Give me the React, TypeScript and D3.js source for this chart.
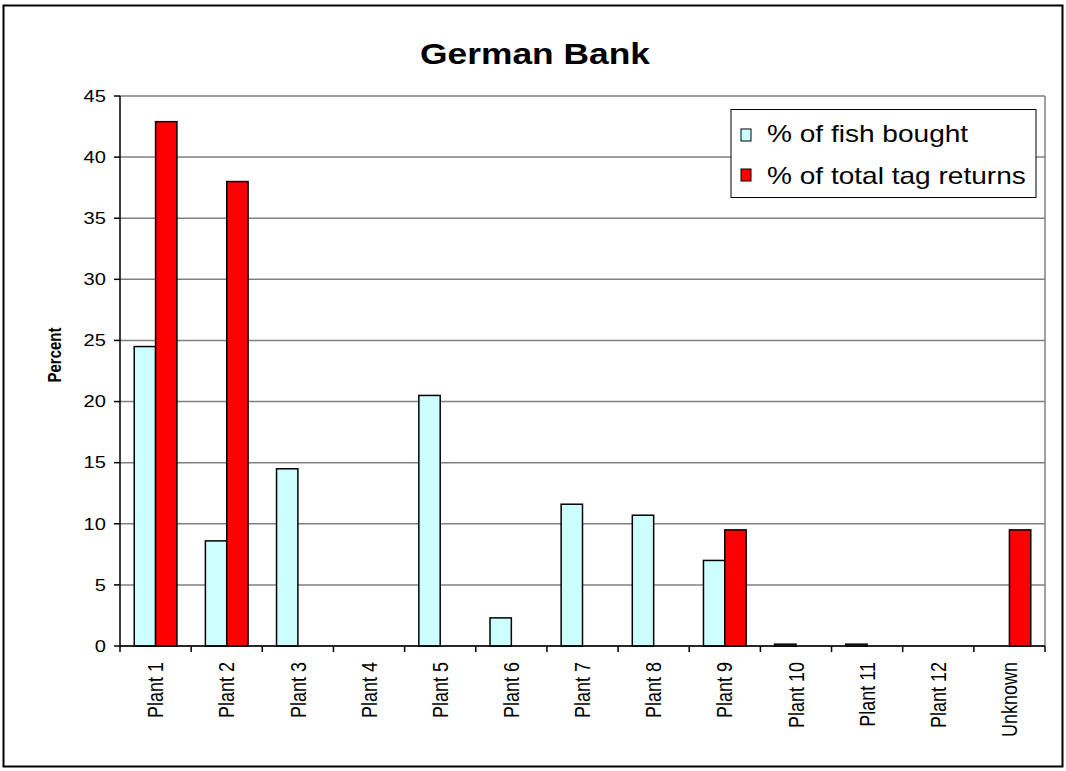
import React from "react";
import * as d3 from "d3";

const categories = ["Plant 1", "Plant 2", "Plant 3", "Plant 4", "Plant 5", "Plant 6", "Plant 7", "Plant 8", "Plant 9", "Plant 10", "Plant 11", "Plant 12", "Unknown"];
const fishBought = [24.5, 8.6, 14.5, 0, 20.5, 2.3, 11.6, 10.7, 7.0, 0.15, 0.15, 0, 0];
const tagReturns = [42.9, 38.0, 0, 0, 0, 0, 0, 0, 9.5, 0, 0, 0, 9.5];
const seriesNames = ["% of fish bought", "% of total tag returns"];
const seriesColors = ["#CCFFFF", "#FF0000"];
const yTicks = [0, 5, 10, 15, 20, 25, 30, 35, 40, 45];

const W = 1066;
const H = 771;
const SX = 1.22;
const FONT = "'Liberation Sans', Arial, sans-serif";

export default function App() {
  const left = 120, right = 1045, top = 96, bottom = 646;
  const x = d3.scaleBand<string>().domain(categories).range([left, right]).paddingInner(0.4).paddingOuter(0.2);
  const x1 = d3.scaleBand<string>().domain(seriesNames).range([0, x.bandwidth()]);
  const y = d3.scaleLinear().domain([0, 45]).range([bottom, top]);
  const step = x.step();
  const series = [fishBought, tagReturns];

  return (
    <svg width={W} height={H} style={{ position: "absolute", left: 0, top: 0 }} fontFamily={FONT}>
      <rect x={0} y={0} width={W} height={H} fill="#fff" />
      <rect x={3.5} y={5.5} width={1059} height={761} fill="#fff" stroke="#000" strokeWidth={2} />
      {/* title */}
      <text transform={`translate(535,64) scale(${SX},1)`} textAnchor="middle" fontSize={29} fontWeight="bold" fill="#000">German Bank</text>
      {/* gridlines */}
      {yTicks.map((t) => (
        <line key={"g" + t} x1={left} x2={right} y1={y(t)} y2={y(t)} stroke="#808080" strokeWidth={1.5} />
      ))}
      <line x1={right} x2={right} y1={top} y2={bottom} stroke="#808080" strokeWidth={1.5} />
      {/* bars */}
      {categories.map((c, i) => (
        <g key={c}>
          {series.map((s, j) => s[i] > 0 ? (
            <rect key={j} x={(x(c) as number) + (x1(seriesNames[j]) as number)} y={y(s[i])}
              width={x1.bandwidth()} height={bottom - y(s[i])} fill={seriesColors[j]} stroke="#000" strokeWidth={1.5} />
          ) : null)}
        </g>
      ))}
      {/* axes */}
      <line x1={left} x2={left} y1={top} y2={bottom} stroke="#000" strokeWidth={1.5} />
      <line x1={left} x2={right} y1={bottom} y2={bottom} stroke="#000" strokeWidth={1.5} />
      {yTicks.map((t) => (
        <g key={"t" + t}>
          <line x1={left - 6} x2={left} y1={y(t)} y2={y(t)} stroke="#000" strokeWidth={1.5} />
          <text transform={`translate(106,${y(t)}) scale(${SX},1)`} dy="0.35em" textAnchor="end" fontSize={16.5} fill="#000">{t}</text>
        </g>
      ))}
      {d3.range(categories.length + 1).map((i) => (
        <line key={"ct" + i} x1={left + i * step} x2={left + i * step} y1={bottom} y2={bottom + 6} stroke="#000" strokeWidth={1.5} />
      ))}
      {categories.map((c) => (
        <text key={"cl" + c} transform={`translate(${(x(c) as number) + x.bandwidth() / 2},662) scale(${SX},1) rotate(-90)`}
          dy="0.35em" textAnchor="end" fontSize={18} fill="#000">{c}</text>
      ))}
      <text transform={`translate(55,355) scale(${SX},1) rotate(-90)`} dy="0.35em" textAnchor="middle" fontSize={15} fontWeight="bold" fill="#000">Percent</text>
      {/* legend */}
      <rect x={731} y={109.5} width={305} height={88} fill="#fff" stroke="#000" strokeWidth={1} />
      {seriesNames.map((n, j) => (
        <g key={n}>
          <rect x={741} y={129 + j * 40} width={10} height={12} fill={seriesColors[j]} stroke="#000" strokeWidth={1} />
          <text transform={`translate(767,${142 + j * 42}) scale(${SX},1)`} fontSize={23} fill="#000">{n}</text>
        </g>
      ))}
    </svg>
  );
}
